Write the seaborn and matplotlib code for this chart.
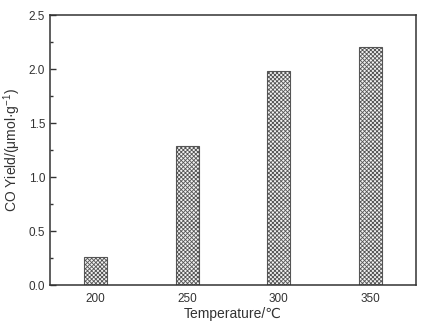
import pandas as pd
import matplotlib
matplotlib.use('Agg')
import matplotlib.pyplot as plt
import seaborn as sns
from matplotlib.ticker import MultipleLocator

temperatures = ['200', '250', '300', '350']
co_yield = [0.26, 1.29, 1.98, 2.20]

df = pd.DataFrame({'temp': temperatures, 'yield': co_yield})

sns.set_style('ticks')
plt.rcParams['font.family'] = ['Liberation Sans', 'DejaVu Sans']
plt.rcParams['mathtext.fontset'] = 'custom'
plt.rcParams['mathtext.rm'] = 'Liberation Sans'
plt.rcParams['mathtext.it'] = 'Liberation Sans'
plt.rcParams['hatch.color'] = '#7a7a7a'
plt.rcParams['hatch.linewidth'] = 0.6

fig = plt.figure(figsize=(4.42, 3.27), dpi=100)
ax = fig.add_axes([0.113, 0.128, 0.828, 0.826])

sns.barplot(data=df, x='temp', y='yield', ax=ax, width=0.25,
            color='#f2f2f2', edgecolor='#555555', linewidth=0.8)
for p in ax.patches:
    p.set_hatch('xxxxxxxx')

ax.set_xlim(-0.5, 3.5)
ax.set_ylim(0, 2.5)
ax.yaxis.set_major_locator(MultipleLocator(0.5))
ax.yaxis.set_minor_locator(MultipleLocator(0.25))
ax.yaxis.set_major_formatter(matplotlib.ticker.FormatStrFormatter('%.1f'))

ax.tick_params(axis='y', which='major', direction='in', length=4, width=1, color='#333333', labelsize=8.5, labelcolor='#333333')
ax.tick_params(axis='y', which='minor', direction='in', length=2, width=1, color='#333333')
ax.tick_params(axis='x', length=0, labelsize=8.5, labelcolor='#333333', pad=6)

for s in ax.spines.values():
    s.set_visible(True)
    s.set_color('#333333')
    s.set_linewidth(1.1)

ax.set_xlabel('Temperature/℃', fontsize=10, color='#333333', labelpad=1)
ax.set_ylabel(r'CO Yield/(μmol·g$^{-1}$)', fontsize=10, color='#333333', labelpad=4)

fig.savefig('out.png', dpi=100)
